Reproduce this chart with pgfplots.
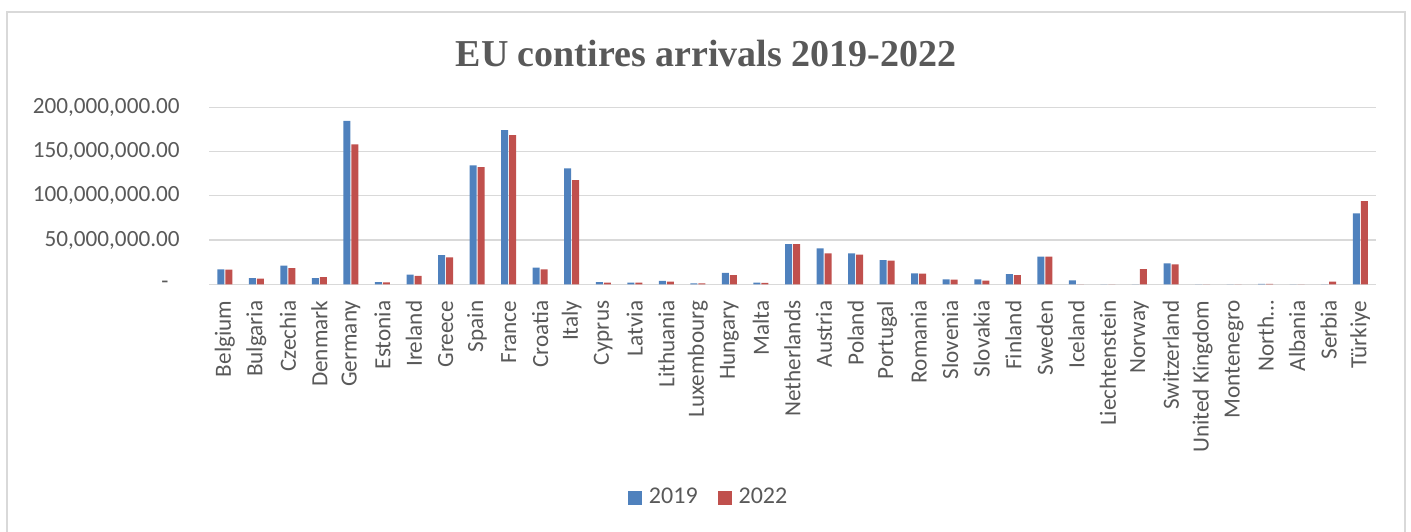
\documentclass[border=0pt]{standalone}
\usepackage{pgfplots}
\usepackage{pgfplotstable}
\pgfplotsset{compat=1.18}
\usepackage{fontspec}
\setmainfont{Carlito}
\newfontfamily\titlefont{Liberation Serif}
\definecolor{txt}{HTML}{595959}
\definecolor{grd}{HTML}{D9D9D9}
\definecolor{b19}{HTML}{4F81BD}
\definecolor{r22}{HTML}{C0504D}
\pgfplotstableread{
i a b
0 16900000 16500000
1 7100000 6300000
2 21000000 18400000
3 7100000 8200000
4 184700000 158000000
5 2600000 2300000
6 10900000 9400000
7 33100000 30500000
8 134300000 132400000
9 174200000 168500000
10 18800000 16900000
11 131000000 117700000
12 2600000 2000000
13 2000000 1800000
14 3800000 3000000
15 1000000 1000000
16 12800000 10500000
17 1800000 1600000
18 45500000 45500000
19 40600000 35000000
20 35000000 33400000
21 27400000 26700000
22 12400000 12000000
23 5600000 5200000
24 5600000 4100000
25 11600000 10500000
26 31200000 31200000
27 4500000 0
28 0 0
29 0 17200000
30 23700000 22600000
31 0 0
32 0 0
33 400000 400000
34 0 0
35 0 3000000
36 80100000 94000000
}\data
\begin{document}
\begin{tikzpicture}
\useasboundingbox (0,0) rectangle (705.5pt,265.5pt);
\draw[grd, line width=0.75pt] (3.5pt,-2pt) rectangle (702.5pt,259.5pt);
\node[anchor=base, font=\titlefont\bfseries\fontsize{19}{22}\selectfont, text=txt] at (353pt,232pt) {EU contires arrivals 2019-2022};
\begin{axis}[
  at={(104.5pt,123.35pt)}, anchor=south west,
  scale only axis, width=583.5pt, height=88.5pt,
  ybar=0.5pt, bar width=3.5pt,
  xmin=-0.5, xmax=36.5, ymin=0, ymax=200000000,
  xtick={0,...,36},
  xticklabels={Belgium,Bulgaria,Czechia,Denmark,Germany,Estonia,Ireland,Greece,Spain,France,Croatia,Italy,Cyprus,Latvia,Lithuania,Luxembourg,Hungary,Malta,Netherlands,Austria,Poland,Portugal,Romania,Slovenia,Slovakia,Finland,Sweden,Iceland,Liechtenstein,Norway,Switzerland,United Kingdom,Montenegro,North…,Albania,Serbia,Türkiye},
  ytick={0,50000000,100000000,150000000,200000000},
  yticklabels={{-\hspace*{5.5pt}},{50,000,000.00},{100,000,000.00},{150,000,000.00},{200,000,000.00}},
  scaled y ticks=false,
  ymajorgrids, grid style={grd, line width=0.6pt},
  axis x line*=bottom, axis y line*=left,
  y axis line style={draw=none},
  x axis line style={grd, line width=0.6pt, -},
  major tick length=0pt, tick style={draw=none},
  x tick label style={rotate=90, anchor=east, inner sep=0pt, font=\fontsize{11.6}{13}\selectfont, text=txt},
  y tick label style={anchor=east, inner sep=0pt, font=\fontsize{11.6}{13}\selectfont, text=txt},
  xticklabel shift=8pt, yticklabel shift=14.5pt,
  legend columns=2,
  legend style={at={(0.429,-1.2056)}, anchor=center, draw=none, fill=none, font=\fontsize{12}{14}\selectfont, text=txt, /tikz/every even column/.append style={column sep=8pt}},
  legend image code/.code={\fill[#1] (0pt,-3.5pt) rectangle (7pt,3.5pt); \path (8.5pt,0pt);},
]
\addplot[fill=b19, draw=none] table[x=i, y=a] {\data};
\addplot[fill=r22, draw=none] table[x=i, y=b] {\data};
\legend{2019,2022}
\end{axis}
\end{tikzpicture}
\end{document}
